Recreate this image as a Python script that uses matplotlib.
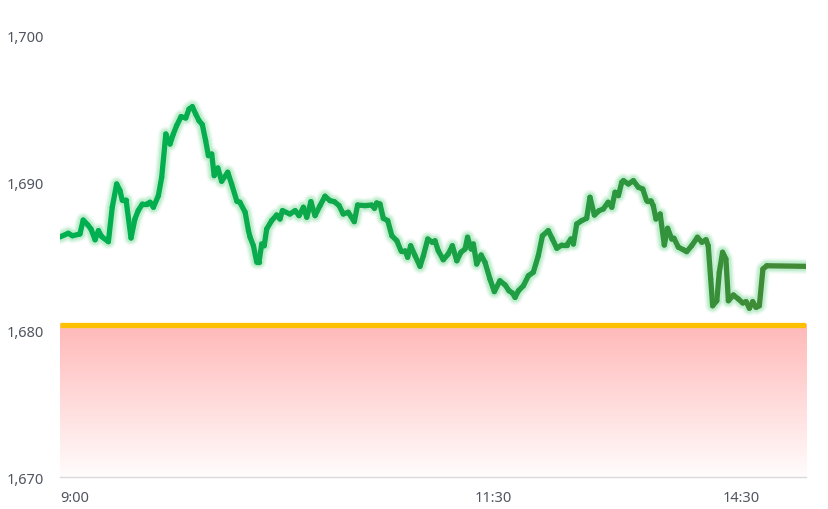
import numpy as np
import matplotlib
matplotlib.use("Agg")
import matplotlib.pyplot as plt
from matplotlib.collections import LineCollection
from matplotlib.colors import to_rgb
from matplotlib.ticker import FuncFormatter

# trading minutes since 9:00 (lunch break removed) and price
minutes = [0, 3, 4.5, 7.2, 8.4, 10.0, 11.2, 12.7, 13.9, 15.1, 17.5, 18.9, 20.5, 21.7,
           22.5, 23.9, 25.7, 27.1, 28.3, 29.8, 31.4, 32.6, 33.8, 35.6, 36.8, 38.3,
           39.8, 41.0, 42.2, 43.8, 45.5, 46.7, 47.9, 49.1, 50.3, 51.5, 52.7, 53.7,
           54.9, 55.8, 57.1, 58.5, 60.7, 62.1, 64.0, 65.1, 67.0, 68.2, 68.8, 70.0,
           71.2, 72.0, 73.0, 73.9, 74.8, 76.6, 78.4, 79.6, 80.5, 83.2, 85.1, 86.5,
           88.1, 89.3, 90.8, 92.3, 94.1, 95.9, 97.7, 99.3, 101.0, 102.5, 104.3, 106.5,
           107.7, 110.4, 112.8, 113.8, 114.6, 115.8, 117.0, 118.6, 120.1, 121.9, 123.4,
           124.9, 125.8, 126.9, 128.5, 130.3, 131.5, 133.1, 134.7, 135.7, 136.9, 138.7,
           140.5, 142.0, 143.6, 145.1, 146.6, 147.5, 148.8, 149.6, 150.8, 152.4, 153.8,
           155.6, 157.2, 159.2, 161.1, 162.5, 163.7, 164.7, 165.9, 167.7, 169.5, 171.3,
           173.1, 174.6, 176.7, 178.2, 179.8, 181.6, 183.4, 184.9, 185.8, 187.0, 188.8,
           190.6, 191.8, 193.4, 195.1, 196.6, 198.4, 199.7, 200.9, 202.1, 203.3, 203.9,
           205.7, 207.5, 209.3, 210.9, 212.3, 213.8, 214.7, 215.7, 217.2, 218.7, 219.9,
           221.4, 222.2, 223.8, 225.6, 226.8, 228.6, 230.7, 232.3, 233.8, 234.6, 235.5,
           236.2, 237.7, 238.6, 239.8, 241.0, 241.9, 243.7, 245.5, 247.1, 248.3, 249.5,
           250.7, 251.9, 253.1, 254.4, 255.8, 270]
prices = [1686.33, 1686.58, 1686.41, 1686.53, 1687.48, 1687.16, 1686.87, 1686.14, 1686.76,
          1686.35, 1686.01, 1688.35, 1689.93, 1689.48, 1688.84, 1688.84, 1686.26, 1687.55,
          1688.12, 1688.57, 1688.57, 1688.69, 1688.35, 1689.14, 1690.39, 1693.33, 1692.65,
          1693.33, 1693.90, 1694.51, 1694.42, 1695.03, 1695.19, 1694.69, 1694.24, 1693.97,
          1692.88, 1691.86, 1691.97, 1690.50, 1691.02, 1690.12, 1690.73, 1689.93, 1688.76,
          1688.69, 1688.01, 1686.76, 1686.31, 1685.73, 1684.61, 1684.61, 1685.85, 1685.73,
          1686.87, 1687.44, 1687.82, 1687.55, 1688.12, 1687.89, 1688.12, 1687.78, 1688.35,
          1687.67, 1688.73, 1687.78, 1688.46, 1689.10, 1688.80, 1688.73, 1688.46, 1687.89,
          1688.01, 1687.37, 1688.50, 1688.46, 1688.50, 1688.28, 1688.64, 1688.57, 1687.60,
          1687.44, 1686.41, 1686.07, 1685.39, 1685.39, 1684.95, 1685.73, 1685.05, 1684.33,
          1685.05, 1686.19, 1685.97, 1686.07, 1685.39, 1684.78, 1685.17, 1685.73, 1684.71,
          1685.29, 1685.51, 1686.31, 1685.51, 1685.85, 1684.49, 1685.10, 1684.61, 1683.47,
          1682.61, 1683.35, 1683.06, 1682.67, 1682.52, 1682.22, 1682.67, 1683.01, 1683.69,
          1683.93, 1685.05, 1686.41, 1686.76, 1686.19, 1685.56, 1685.78, 1685.78, 1686.19,
          1685.85, 1687.21, 1687.44, 1687.60, 1689.03, 1687.82, 1688.12, 1688.23, 1688.69,
          1688.35, 1689.37, 1689.14, 1690.05, 1690.16, 1689.93, 1690.16, 1689.71, 1689.59,
          1688.80, 1688.80, 1688.46, 1687.55, 1687.89, 1685.78, 1686.92, 1686.19, 1686.24,
          1685.63, 1685.46, 1685.33, 1685.73, 1686.31, 1685.97, 1686.14, 1685.73, 1683.47,
          1681.65, 1681.99, 1683.93, 1685.29, 1684.83, 1681.99, 1682.38, 1682.11, 1681.84,
          1681.93, 1681.48, 1681.93, 1681.54, 1681.65, 1684.15, 1684.37, 1684.33]

prev_close = 1680.34
tick_pos = [0, 150, 240]
tick_lbls = ['9:00', '11:30', '14:30']

plt.rcParams['font.family'] = ['Noto Sans', 'DejaVu Sans']

x = np.array(minutes)
y = np.array(prices)

fig = plt.figure(figsize=(8.29, 5.10), dpi=100)
ax = fig.add_axes([0.0724, 0.0627, 0.8999, 0.8648])

# red gradient under the previous close
grad = np.zeros((200, 1, 4))
top = np.array(to_rgb('#ffb8b8'))
t = np.linspace(1, 0, 200)[:, None]
grad[:, 0, :3] = top * t + (1 - t) * np.array([1.0, 0.99, 0.99])
grad[:, 0, 3] = 1.0
ax.imshow(grad, extent=[x[0], x[-1], 1670, prev_close], aspect='auto',
          origin='upper', zorder=1, interpolation='bicubic')

ax.axhline(prev_close, color='#ffc000', lw=3.8, zorder=3, solid_capstyle='butt')

# soft glow round the price line
for lw, a in [(11, 0.10), (9, 0.16), (7, 0.25)]:
    ax.plot(x, y, color='#6fd890', lw=lw, alpha=a, zorder=4,
            solid_joinstyle='round', solid_capstyle='round')

# main line, colour shifting from bright to darker green
pts = np.column_stack([x, y]).reshape(-1, 1, 2)
segs = np.concatenate([pts[:-1], pts[1:]], axis=1)
c0 = np.array(to_rgb('#00b050'))
c1 = np.array(to_rgb('#428a36'))
f = ((x[:-1] + x[1:]) / 2 / 260).clip(0, 1) ** 1.6
cols = c0 * (1 - f[:, None]) + c1 * f[:, None]
lc = LineCollection(segs, colors=cols, linewidths=3.8, capstyle='round',
                    joinstyle='round', zorder=5)
ax.add_collection(lc)

ax.set_xlim(0, 270)
ax.set_ylim(1670, 1700)
ax.set_yticks([1670, 1680, 1690, 1700])
ax.yaxis.set_major_formatter(FuncFormatter(lambda v, p: f'{v:,.0f}'))
ax.set_xticks(tick_pos)
ax.set_xticklabels(tick_lbls, ha='left')
ax.tick_params(axis='both', length=0, labelsize=10.5, labelcolor='#505560')
ax.tick_params(axis='y', pad=11.5)
ax.tick_params(axis='x', pad=9)

for s in ['top', 'right', 'left']:
    ax.spines[s].set_visible(False)
ax.spines['bottom'].set_color('#d9d9d9')
ax.spines['bottom'].set_linewidth(1)

fig.savefig('out.png', dpi=100)
